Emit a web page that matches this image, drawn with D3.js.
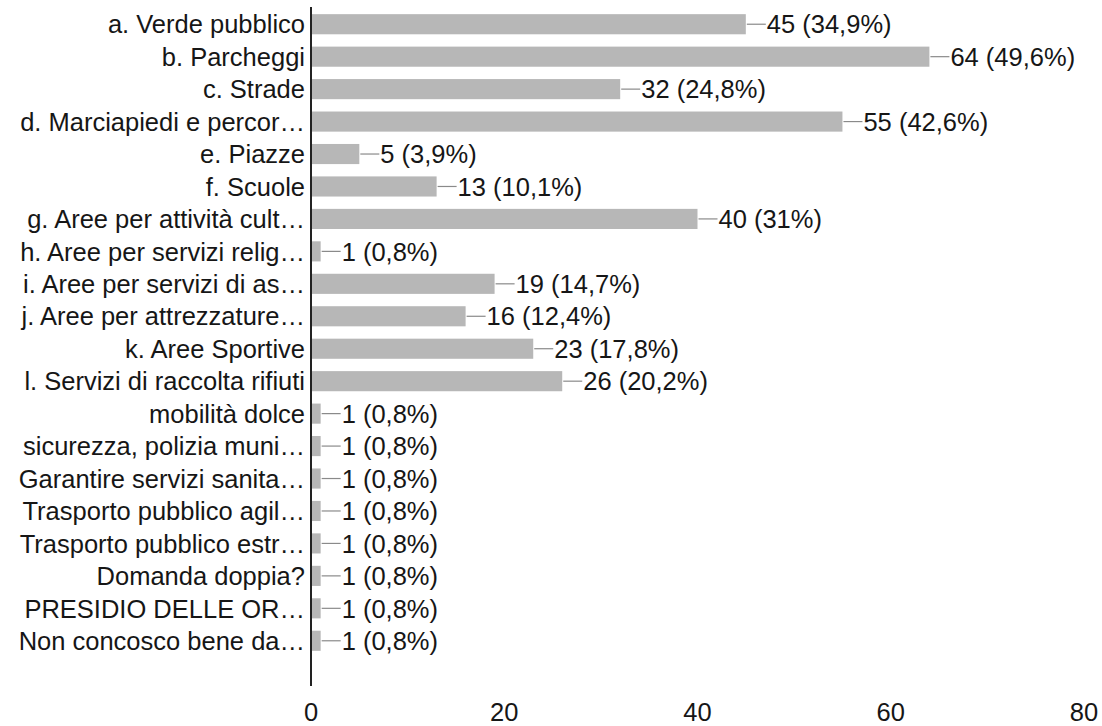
<!DOCTYPE html>
<html>
<head>
<meta charset="utf-8">
<script src="https://cdn.jsdelivr.net/npm/d3@7"></script>
<style>
  body { margin: 0; background: #fff; }
  svg text { font-family: "Liberation Sans", Arial, sans-serif; fill: #161616; }
</style>
</head>
<body>
<div id="chart"></div>
<script>
// data
const categories = [
  "a. Verde pubblico", "b. Parcheggi", "c. Strade", "d. Marciapiedi e percor…",
  "e. Piazze", "f. Scuole", "g. Aree per attività cult…", "h. Aree per servizi relig…",
  "i. Aree per servizi di as…", "j. Aree per attrezzature…", "k. Aree Sportive",
  "l. Servizi di raccolta rifiuti", "mobilità dolce", "sicurezza, polizia muni…",
  "Garantire servizi sanita…", "Trasporto pubblico agil…", "Trasporto pubblico estr…",
  "Domanda doppia?", "PRESIDIO DELLE OR…", "Non concosco bene da…"
];
const counts = [45, 64, 32, 55, 5, 13, 40, 1, 19, 16, 23, 26, 1, 1, 1, 1, 1, 1, 1, 1];
const percents = ["34,9%", "49,6%", "24,8%", "42,6%", "3,9%", "10,1%", "31%", "0,8%",
  "14,7%", "12,4%", "17,8%", "20,2%", "0,8%", "0,8%", "0,8%", "0,8%", "0,8%", "0,8%", "0,8%", "0,8%"];
const xTicks = [0, 20, 40, 60, 80];

const width = 1102, height = 726;
const margin = { left: 311, right: 1084, top: 8, bottom: 657 };
const fontSize = 25.5;

const svg = d3.select("#chart").append("svg")
  .attr("width", width)
  .attr("height", height);

const x = d3.scaleLinear().domain([0, 80]).range([margin.left, margin.right]);
const y = d3.scaleBand().domain(categories).range([margin.top, margin.bottom]).paddingInner(0.38).paddingOuter(0.19);

// bars
svg.append("g")
  .selectAll("rect")
  .data(counts)
  .join("rect")
  .attr("x", x(0))
  .attr("y", (d, i) => y(categories[i]))
  .attr("width", d => x(d) - x(0))
  .attr("height", y.bandwidth())
  .attr("fill", "#b7b7b7");

// leader lines + value labels
const lab = svg.append("g")
  .selectAll("g")
  .data(counts)
  .join("g")
  .attr("transform", (d, i) => `translate(${x(d)},${y(categories[i]) + y.bandwidth() / 2})`);

lab.append("line")
  .attr("x1", 1).attr("x2", 20)
  .attr("stroke", "#8a8a8a")
  .attr("stroke-width", 1.2);

lab.append("text")
  .attr("x", 21)
  .attr("dy", "0.36em")
  .attr("font-size", fontSize)
  .text((d, i) => `${d} (${percents[i]})`);

// category labels
svg.append("g")
  .selectAll("text")
  .data(categories)
  .join("text")
  .attr("x", margin.left - 6)
  .attr("y", d => y(d) + y.bandwidth() / 2)
  .attr("dy", "0.36em")
  .attr("text-anchor", "end")
  .attr("font-size", fontSize)
  .text(d => d);

// axis line
svg.append("line")
  .attr("x1", x(0)).attr("x2", x(0))
  .attr("y1", 7).attr("y2", 686)
  .attr("stroke", "#222")
  .attr("stroke-width", 2);

// x tick labels
svg.append("g")
  .selectAll("text")
  .data(xTicks)
  .join("text")
  .attr("x", d => x(d))
  .attr("y", 721)
  .attr("text-anchor", "middle")
  .attr("font-size", fontSize)
  .text(d => d);
</script>
</body>
</html>
